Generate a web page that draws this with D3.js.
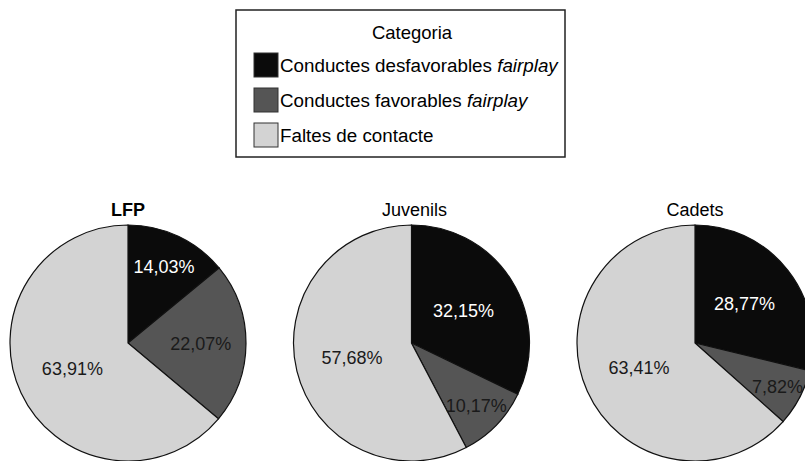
<!DOCTYPE html>
<html>
<head>
<meta charset="utf-8">
<script src="https://cdn.jsdelivr.net/npm/d3@7"></script>
<style>
  body { margin: 0; background: #fff; }
  text { font-family: "Liberation Sans", Arial, sans-serif; }
</style>
</head>
<body>
<svg width="805" height="461"></svg>
<script>
// categories and values
var categories = ["Conductes desfavorables", "Conductes favorables", "Faltes de contacte"];
var groups = ["LFP", "Juvenils", "Cadets"];
var lfp = [14.03, 22.07, 63.91];
var juvenils = [32.15, 10.17, 57.68];
var cadets = [28.77, 7.82, 63.41];
var series = [lfp, juvenils, cadets];

var svg = d3.select("svg");

var color = d3.scaleOrdinal()
    .domain(categories)
    .range(["#0b0b0b", "#555555", "#d3d3d3"]);

var labelColor = d3.scaleOrdinal()
    .domain(categories)
    .range(["#ffffff", "#1a1a1a", "#1a1a1a"]);

var centerX = d3.scalePoint().domain(groups).range([128, 695]);
var radius = 118;

// small slices get their label pushed further out
var labelK = d3.scaleLinear().domain([8, 30]).range([0.79, 0.52]).clamp(true);

var pie = d3.pie().sort(null).value(function(d) { return d.value; });
var arc = d3.arc().innerRadius(0).outerRadius(radius);

// legend
var legend = svg.append("g").attr("transform", "translate(236,10)");
legend.append("rect")
    .attr("width", 329).attr("height", 147)
    .attr("fill", "#fff").attr("stroke", "#222").attr("stroke-width", 1.5);
legend.append("text")
    .attr("x", 176).attr("y", 29)
    .attr("text-anchor", "middle")
    .attr("font-size", 18.5)
    .text("Categoria");

var item = legend.selectAll(".item")
    .data(categories)
    .enter().append("g")
      .attr("class", "item")
      .attr("transform", function(d, i) { return "translate(18," + (43 + i * 35) + ")"; });

item.append("rect")
    .attr("width", 24).attr("height", 24)
    .attr("fill", function(d) { return color(d); })
    .attr("stroke", "#333");

var itemText = item.append("text")
    .attr("x", 26).attr("y", 19)
    .attr("font-size", 18.8);
itemText.append("tspan").text(function(d, i) { return i < 2 ? d + " " : d; });
itemText.append("tspan")
    .attr("font-style", "italic")
    .text(function(d, i) { return i < 2 ? "fairplay" : ""; });

// pies
groups.forEach(function(gname, gi) {
  var data = categories.map(function(c, i) { return {cat: c, value: series[gi][i]}; });
  var g = svg.append("g")
      .attr("transform", "translate(" + centerX(gname) + ",343)");

  g.append("text")
      .attr("x", gi === 1 ? 3 : 0)
      .attr("y", -127)
      .attr("text-anchor", "middle")
      .attr("font-size", 18)
      .attr("font-weight", gi === 0 ? "bold" : "normal")
      .text(gname);

  var arcs = pie(data);

  g.selectAll("path")
    .data(arcs)
    .enter().append("path")
      .attr("d", arc)
      .attr("fill", function(d) { return color(d.data.cat); })
      .attr("stroke", "#111")
      .attr("stroke-width", 1.2);

  g.selectAll(".lbl")
    .data(arcs)
    .enter().append("text")
      .attr("class", "lbl")
      .attr("transform", function(d) {
        var k = labelK(d.data.value);
        var a = (d.startAngle + d.endAngle) / 2;
        return "translate(" + (Math.sin(a) * radius * k) + "," + (-Math.cos(a) * radius * k) + ")";
      })
      .attr("text-anchor", "middle")
      .attr("dy", "0.35em")
      .attr("font-size", 18)
      .attr("fill", function(d) { return labelColor(d.data.cat); })
      .text(function(d) { return d3.format(".2f")(d.data.value).replace(".", ",") + "%"; });
});
</script>
</body>
</html>
